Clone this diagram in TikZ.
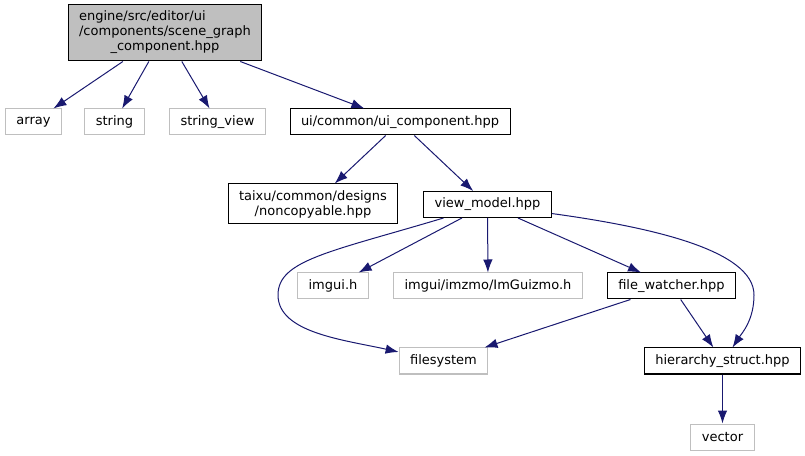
\documentclass[tikz,border=0pt]{standalone}
\usepackage{fontspec}
\setmainfont{DejaVu Sans}
\usepackage{tikz}
\usetikzlibrary{arrows.meta,positioning}
\definecolor{edgeblue}{RGB}{25,25,112}
\definecolor{grey2}{RGB}{191,191,191}
\tikzset{
  filebox/.style={draw=black, line width=1pt, minimum height=26pt,
    inner xsep=11pt, inner ysep=4pt, align=center, fill=white, font=\fontsize{13}{15}\selectfont},
  mainbox/.style={filebox, fill=grey2, minimum height=56pt},
  sysbox/.style={filebox, draw=grey2},
  flow/.style={-{Latex[length=13pt,width=9.5pt]}, line width=1pt, color=edgeblue}
}
\begin{document}
\begin{tikzpicture}[x=1pt, y=1pt, node distance=24pt and 24pt]
\useasboundingbox (0,0) rectangle (805,455);
\node[mainbox] (root) at (165,422) {\begin{tabular}{@{}l@{}}engine/src/editor/ui\\/components/scene\_graph\\\multicolumn{1}{@{}c@{}}{\_component.hpp}\end{tabular}};
\node[sysbox] (array) at (33.5,333) {array};
\node[sysbox] (string) at (114.5,333) {string};
\node[sysbox] (strview) at (217.5,333) {string\_view};
\node[filebox] (uicomp) at (400,333) {ui/common/ui\_component.hpp};
\node[filebox, minimum height=40pt] (noncopy) at (313,251) {taixu/common/designs\\/noncopyable.hpp};
\node[filebox] (vm) at (487.5,250.5) {view\_model.hpp};
\node[sysbox] (imgui) at (333,169) {imgui.h};
\node[sysbox] (guizmo) at (488,169) {imgui/imzmo/ImGuizmo.h};
\node[filebox] (fw) at (671.5,169) {file\_watcher.hpp};
\node[sysbox] (fs) at (443.5,94) {filesystem};
\node[filebox] (hier) at (722.5,94) {hierarchy\_struct.hpp};
\node[sysbox, below=49pt of hier] (vector) {vector};

\draw[flow] (root) -- (array);
\draw[flow] (root) -- (string);
\draw[flow] (root) -- (strview);
\draw[flow] (root) -- (uicomp);
\draw[flow] (uicomp) -- (noncopy);
\draw[flow] (uicomp) -- (vm);
\draw[flow] ([xshift=-44pt]vm.south) .. controls (330,203) and (278,195) .. (278,160)
  .. controls (278,122) and (345,115) .. ([yshift=9pt]fs.west);
\draw[flow] (vm) -- (imgui);
\draw[flow] (vm) -- (guizmo);
\draw[flow] (vm) -- (fw);
\draw[flow] (vm.-8) .. controls (650,228) and (754,205) .. (754,160)
  .. controls (754,135) and (742,122) .. ([xshift=10pt]hier.north);
\draw[flow] (fw) -- (fs);
\draw[flow] (fw) -- (hier);
\draw[flow] (hier) -- (vector);
\end{tikzpicture}
\end{document}
